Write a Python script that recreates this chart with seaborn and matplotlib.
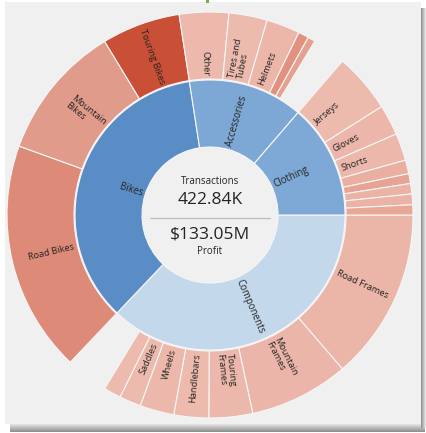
import numpy as np
import pandas as pd
import matplotlib
matplotlib.use("Agg")
import matplotlib.pyplot as plt
from matplotlib.patches import Rectangle
import seaborn as sns

# ---------------- data (transactions, thousands) ----------------
categories = ["Components", "Bikes", "Accessories", "Clothing"]
category_values = [156.8, 150.0, 58.1, 57.9]

components_sub = ["Road Frames", "Mountain\nFrames", "Touring\nFrames", "Handlebars", "Wheels", "Saddles", ""]
components_vals = [57.9, 33.5, 14.7, 11.7, 11.5, 7.3, 5.8]
bikes_sub = ["Road Bikes", "Mountain\nBikes", "Touring Bikes"]
bikes_vals = [77.9, 45.7, 26.4]
accessories_sub = ["Other", "Tires and\nTubes", "Helmets", "", ""]
accessories_vals = [16.6, 12.9, 11.3, 3.5, 2.5]
clothing_sub = ["Jerseys", "Gloves", "Shorts", "", "", "", "", ""]
clothing_vals = [20.0, 10.3, 9.2, 4.6, 3.3, 3.5, 3.6, 3.4]

center_top_label = "Transactions"
center_top_value = "422.84K"
center_bottom_value = "$133.05M"
center_bottom_label = "Profit"

# ---------------- styles ----------------
inner_colors = ["#C3D8EB", "#5A8DC5", "#7DA7D4", "#7EA8D5"]
components_colors = ["#EBB5A8", "#EBB6A9", "#ECB8AB", "#EDBAAE", "#ECB8AB", "#EDBAAE", "#EDBAAE"]
bikes_colors = ["#DE8A78", "#E09B8A", "#C94F36"]
accessories_colors = ["#EDB9AD", "#EDBAAE", "#ECB6A9", "#E3917F", "#E6A090"]
clothing_colors = ["#EDBAAE", "#ECB7AA", "#ECB8AB", "#EAAFA1", "#E7A494", "#EBB3A6", "#EBB2A5", "#E8A797"]

sns.set_theme(style="white")
plt.rcParams["font.family"] = ["Open Sans", "DejaVu Sans"]
TXT = "#252423"

W, H = 426, 433
fig = plt.figure(figsize=(W / 100, H / 100), dpi=100)
fig.patch.set_facecolor("white")
ax = fig.add_axes([0, 0, 1, 1])

cx, cy = 210, H - 215
R_OUT, R_MID, R_IN = 203, 135, 68

# ---------------- panel & shadow ----------------
grad_v = np.linspace(0, 1, 50).reshape(-1, 1)
ax.imshow(grad_v, cmap=sns.light_palette("#8c8c8c", reverse=True, as_cmap=True).reversed(),
          extent=(10, 425, H - 432, H - 423), aspect="auto", zorder=0.1, vmin=0, vmax=1)
grad_h = np.linspace(0, 1, 50).reshape(1, -1)
ax.imshow(grad_h, cmap=sns.light_palette("#8c8c8c", reverse=True, as_cmap=True),
          extent=(420.5, 425, H - 428, H - 8), aspect="auto", zorder=0.1, vmin=0, vmax=1)
ax.add_patch(Rectangle((5, H - 424), 416, 422, facecolor="#F0F0F0", edgecolor="none", zorder=0.5))
ax.add_patch(Rectangle((206, H - 2.7), 3, 2.7, facecolor="#6DB33F", edgecolor="none", zorder=0.6))

# ---------------- inner ring ----------------
wp = dict(width=R_MID - R_IN, edgecolor="#F6F6F6", linewidth=0.8)
inner_wedges, _ = ax.pie(category_values, radius=R_MID, center=(cx, cy), startangle=0,
                         counterclock=False, colors=inner_colors, wedgeprops=wp, frame=True)

# ---------------- outer ring ----------------
groups = [
    (components_sub, components_vals, components_colors),
    (bikes_sub, bikes_vals, bikes_colors),
    (accessories_sub, accessories_vals, accessories_colors),
    (clothing_sub, clothing_vals, clothing_colors),
]
outer_vals, outer_labels, outer_colors, outer_visible = [], [], [], []
for (subs, vals, cols), parent_val in zip(groups, category_values):
    outer_vals += vals
    outer_labels += subs
    outer_colors += cols
    outer_visible += [True] * len(vals)
    gap = parent_val - sum(vals)
    if gap > 0.05:
        outer_vals.append(gap)
        outer_labels.append("")
        outer_colors.append("#F0F0F0")
        outer_visible.append(False)

wp2 = dict(width=R_OUT - R_MID - 1, edgecolor="#F6F6F6", linewidth=0.8)
outer_wedges, _ = ax.pie(outer_vals, radius=R_OUT, center=(cx, cy), startangle=0,
                         counterclock=False, colors=outer_colors, wedgeprops=wp2, frame=True)
for w, vis in zip(outer_wedges, outer_visible):
    w.set_visible(vis)


def place(label, w, r_anchor, fs):
    if not label:
        return
    a = ((w.theta1 + w.theta2) / 2.0) % 360
    x = cx + r_anchor * np.cos(np.radians(a))
    y = cy + r_anchor * np.sin(np.radians(a))
    if 90 < a < 270:
        rot, ha = a - 180, "right"
    else:
        rot, ha = (a if a <= 90 else a - 360), "left"
    ax.text(x, y, label, rotation=rot, rotation_mode="anchor", ha=ha, va="center",
            multialignment="left", fontsize=fs, color=TXT, zorder=5, linespacing=1.05)


for lab, w in zip(categories, inner_wedges):
    place(lab, w, R_IN + 3, 6.9)
for lab, w in zip(outer_labels, outer_wedges):
    place(lab, w, R_MID + 4.5, 6.7)

# ---------------- center ----------------
ax.text(cx, H - 181, center_top_label, ha="center", va="center", fontsize=7, color=TXT)
ax.text(cx, H - 200, center_top_value, ha="center", va="center", fontsize=12.5, color=TXT)
ax.plot([150, 270], [H - 218, H - 218], color="#BDBDBD", lw=0.9, zorder=5)
ax.text(cx, H - 235, center_bottom_value, ha="center", va="center", fontsize=12.5, color=TXT)
ax.text(cx, H - 252, center_bottom_label, ha="center", va="center", fontsize=7, color=TXT)

ax.set_xlim(0, W)
ax.set_ylim(0, H)
ax.set_aspect("auto")
ax.axis("off")
fig.savefig("out.png", dpi=100, facecolor="white")
